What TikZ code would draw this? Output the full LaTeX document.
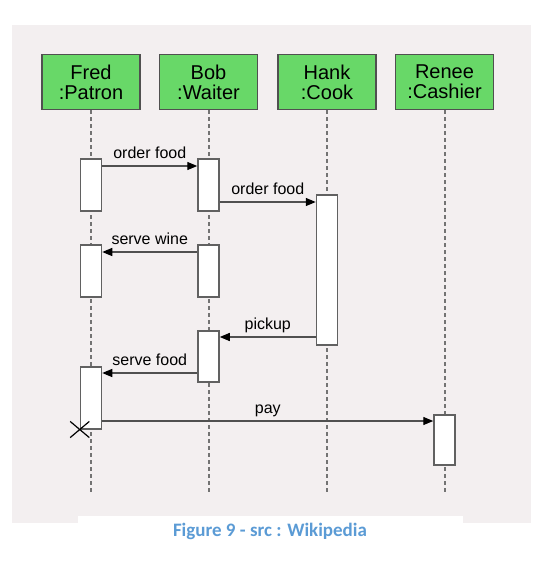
\documentclass[tikz,border=0pt]{standalone}
\usepackage{fontspec}
\setmainfont{Liberation Sans}
\newfontfamily\capfont{Carlito}
\usetikzlibrary{arrows.meta,shapes.misc}
\definecolor{bgpink}{RGB}{243,239,240}
\definecolor{hdgreen}{RGB}{104,216,104}
\definecolor{capblue}{RGB}{91,155,213}
\definecolor{edgegray}{RGB}{80,80,80}
\begin{document}
\begin{tikzpicture}[x=1pt,y=-1pt,
head/.style={draw=edgegray,line width=1.5pt,fill=hdgreen,minimum width=98pt,minimum height=55pt,align=center,inner sep=0pt,font=\fontsize{20}{20}\selectfont},
bar/.style={draw=edgegray!90,line width=1.5pt,fill=white,minimum width=21pt,anchor=north,inner sep=0pt},
life/.style={draw=gray!90!black,line width=2pt,dash pattern=on 4pt off 3pt},
msg/.style={draw=edgegray,line width=1.3pt,-{Triangle[length=10pt,width=8pt,color=black]}},
lbl/.style={midway,above=7pt,inner sep=0pt,text depth=0pt,font=\fontsize{16}{16}\selectfont}]
\useasboundingbox (0,0) rectangle (559,565);
\fill[bgpink] (12,25) rectangle (531,523);
\fill[white] (78,516) rectangle (463,523);
\node[head] (fred) at (91,82) {Fred\\:Patron};
\node[head] (bob) at (208.5,82) {Bob\\:Waiter};
\node[head] (hank) at (327,82) {Hank\\:Cook};
\node[head] (renee) at (444.5,82) {Renee\\:Cashier};
\coordinate (bottom) at (0,493);
\foreach \p in {fred,bob,hank,renee}
  \draw[life] (\p.south) -- (\p.south |- bottom);
\node[bar,minimum height=52pt] (f1) at (91,158) {};
\node[bar,minimum height=52pt] (b1) at (208.5,158) {};
\node[bar,minimum height=150pt] (h1) at (327,194) {};
\node[bar,minimum height=52pt] (f2) at (91,244) {};
\node[bar,minimum height=52pt] (b2) at (208.5,244) {};
\node[bar,minimum height=51pt] (b3) at (208.5,330) {};
\node[bar,minimum height=62pt] (f3) at (91,366) {};
\node[bar,minimum height=50pt] (r1) at (444.5,414) {};
\coordinate (m1) at ([yshift=-8pt]b1.north west);
\coordinate (m2) at ([yshift=-8pt]h1.north west);
\coordinate (m3) at ([yshift=-8pt]f2.north east);
\coordinate (m4) at ([yshift=-7pt]b3.north east);
\coordinate (m5) at ([yshift=-7pt]f3.north east);
\coordinate (m6) at ([yshift=-7pt]r1.north west);
\draw[msg] (f1.east |- m1) -- node[lbl] {order food} (m1);
\draw[msg] (b1.east |- m2) -- node[lbl] {order food} (m2);
\draw[msg] (b2.west |- m3) -- node[lbl] {serve wine} (m3);
\draw[msg] (h1.west |- m4) -- node[lbl] {pickup} (m4);
\draw[msg] (b3.west |- m5) -- node[lbl] {serve food} (m5);
\draw[msg] (f3.east |- m6) -- node[lbl] {pay} (m6);
\node[cross out,draw=black,line width=1.2pt,minimum width=18pt,minimum height=15pt,inner sep=0pt] (kill) at (f3.south west) {};
\node[anchor=base,text=capblue,font=\capfont\bfseries\fontsize{19}{19}\selectfont] (cap) at (270,536) {Figure 9 - src : Wikipedia};
\end{tikzpicture}
\end{document}
